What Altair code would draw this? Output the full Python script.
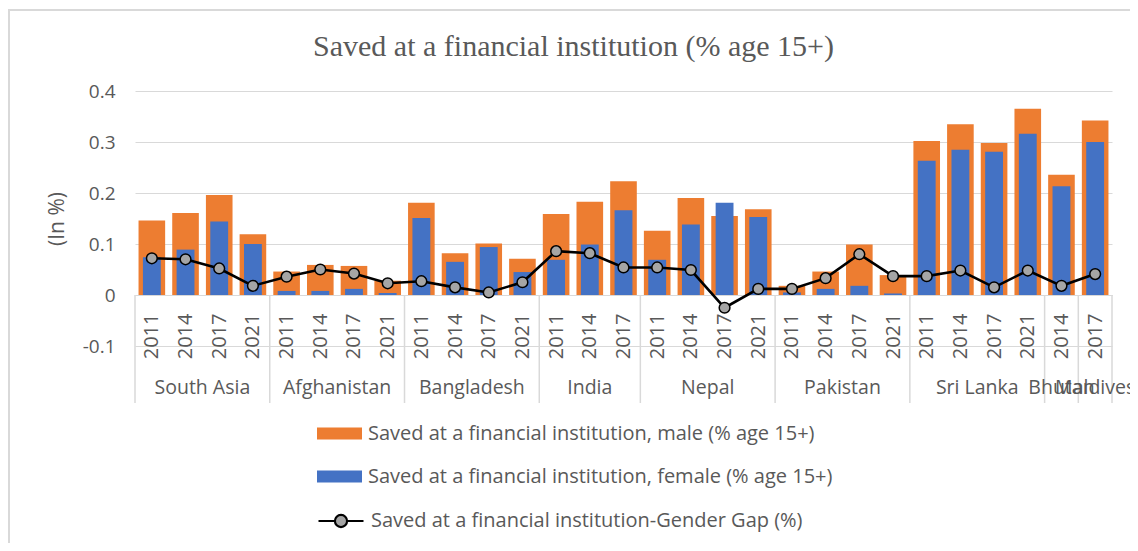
import altair as alt
import pandas as pd

# ---- data ----
countries = (["South Asia"] * 4 + ["Afghanistan"] * 4 + ["Bangladesh"] * 4 + ["India"] * 3
             + ["Nepal"] * 4 + ["Pakistan"] * 4 + ["Sri Lanka"] * 4 + ["Bhutan"] + ["Maldives"])
years = ["2011", "2014", "2017", "2021",
         "2011", "2014", "2017", "2021",
         "2011", "2014", "2017", "2021",
         "2011", "2014", "2017",
         "2011", "2014", "2017", "2021",
         "2011", "2014", "2017", "2021",
         "2011", "2014", "2017", "2021",
         "2014",
         "2017"]
male = [0.146, 0.161, 0.196, 0.119,
        0.046, 0.059, 0.057, 0.028,
        0.181, 0.082, 0.101, 0.071,
        0.159, 0.183, 0.223,
        0.126, 0.190, 0.155, 0.168,
        0.018, 0.046, 0.099, 0.039,
        0.302, 0.335, 0.298, 0.365,
        0.236,
        0.342]
female = [0.074, 0.089, 0.144, 0.100,
          0.008, 0.008, 0.012, 0.004,
          0.151, 0.065, 0.094, 0.045,
          0.069, 0.099, 0.166,
          0.069, 0.138, 0.181, 0.153,
          0.005, 0.012, 0.018, 0.003,
          0.263, 0.285, 0.281, 0.316,
          0.213,
          0.300]
gap = [0.072, 0.070, 0.052, 0.018,
       0.036, 0.050, 0.042, 0.023,
       0.027, 0.015, 0.005, 0.025,
       0.086, 0.082, 0.054,
       0.054, 0.049, -0.025, 0.012,
       0.012, 0.033, 0.080, 0.037,
       0.037, 0.048, 0.015, 0.048,
       0.018,
       0.041]
y_ticks = [-0.1, 0, 0.1, 0.2, 0.3, 0.4]

MALE = "Saved at a financial institution, male (% age 15+)"
FEMALE = "Saved at a financial institution, female (% age 15+)"
GAP = "Saved at a financial institution-Gender Gap (%)"
TITLE = "Saved at a financial institution (% age 15+)"

ORANGE = "#ED7D31"
BLUE = "#4472C4"
GREY = "#A5A5A5"
TXT = "#595959"
GRID = "#D9D9D9"
FONT = "Open Sans"

n = len(years)
df = pd.DataFrame({"idx": list(range(n)), "country": countries, "year": years,
                   "male": male, "female": female, "gap": gap})
df["zero"] = 0.0
df["m0"] = df["idx"] - 0.395
df["m1"] = df["idx"] + 0.395
df["f0"] = df["idx"] - 0.265
df["f1"] = df["idx"] + 0.265

grp = df.groupby("country", sort=False)["idx"].agg(["min", "max"]).reset_index()
grp["center"] = (grp["min"] + grp["max"]) / 2
bounds = pd.DataFrame({"b": list(grp["min"] - 0.5) + [n - 0.5]})
bounds["zero"] = 0.0

W, H = 977, 255
ymin, ymax = y_ticks[0], y_ticks[-1]

xscale = alt.Scale(domain=[-0.5, n - 0.5], nice=False, zero=False)
yscale = alt.Scale(domain=[ymin, ymax], nice=False, zero=False)
fillscale = alt.Scale(domain=[MALE, FEMALE], range=[ORANGE, BLUE])
strokescale = alt.Scale(domain=[GAP], range=["black"])

# year labels looked up by bar index from one concatenated string
year_str = "".join(years)
year_expr = f"substring('{year_str}', datum.value*4, datum.value*4+4)"

base = alt.Chart(df)

rect_sym = "M-1,-0.27 L1,-0.27 L1,0.27 L-1,0.27 Z"
line_sym = ("M-1,0 L-0.27,0 M0.27,0 L1,0 "
            "M0.27,0 A0.27,0.27 0 1,1 -0.27,0 A0.27,0.27 0 1,1 0.27,0 Z")

fill_legend = alt.Legend(
    title=None, orient="none", legendX=182, legendY=320, direction="vertical",
    symbolType=rect_sym, symbolSize=2025, symbolStrokeWidth=0, padding=0,
    labelFont=FONT, labelFontSize=20, labelColor=TXT, labelOffset=6,
    rowPadding=10, labelLimit=0)
stroke_legend = alt.Legend(
    title=None, orient="none", legendX=182, legendY=406, direction="vertical",
    symbolType=line_sym, symbolSize=2025, symbolStrokeWidth=2.2,
    symbolFillColor=GREY, padding=0,
    labelFont=FONT, labelFontSize=20, labelColor=TXT, labelOffset=6, labelLimit=0)

x_axis = alt.Axis(values=list(range(n)), tickCount=n, labelExpr=year_expr, labelAngle=270,
                  title=None, grid=False, ticks=False, domain=True, domainColor=GRID,
                  domainWidth=1, offset=-H * (0 - ymin) / (ymax - ymin),
                  labelPadding=18, labelFont=FONT, labelFontSize=20, labelColor=TXT,
                  labelOverlap=False, labelFlush=False)
y_axis = alt.Axis(values=y_ticks,
                  labelExpr="toString(round(datum.value*10)/10)",
                  title="(In %)", grid=True, gridColor=GRID, gridWidth=1.2,
                  domain=False, ticks=False, labelPadding=20,
                  labelFont=FONT, labelFontSize=19, labelColor=TXT,
                  titleFont=FONT, titleFontSize=21, titleColor=TXT,
                  titleFontWeight="normal", titlePadding=15)

male_bars = base.transform_calculate(series=f"'{MALE}'").mark_rect().encode(
    x=alt.X("m0:Q", scale=xscale, axis=x_axis),
    x2="m1:Q",
    y=alt.Y("male:Q", scale=yscale, axis=y_axis),
    y2="zero:Q",
    fill=alt.Fill("series:N", scale=fillscale, legend=fill_legend),
)
female_bars = base.transform_calculate(series=f"'{FEMALE}'").mark_rect().encode(
    x=alt.X("f0:Q", scale=xscale),
    x2="f1:Q",
    y=alt.Y("female:Q", scale=yscale),
    y2="zero:Q",
    fill=alt.Fill("series:N", scale=fillscale, legend=fill_legend),
)
gap_line = base.transform_calculate(series=f"'{GAP}'").mark_line(strokeWidth=2.6).encode(
    x=alt.X("idx:Q", scale=xscale),
    y=alt.Y("gap:Q", scale=yscale),
    stroke=alt.Stroke("series:N", scale=strokescale, legend=stroke_legend),
)
gap_pts = base.mark_point(filled=True, fill=GREY, stroke="black", strokeWidth=1.5,
                          size=115, opacity=1).encode(
    x=alt.X("idx:Q", scale=xscale),
    y=alt.Y("gap:Q", scale=yscale),
)
separators = alt.Chart(bounds).mark_rule(color=GRID, strokeWidth=1.5).encode(
    x=alt.X("b:Q", scale=xscale),
    y=alt.Y("zero:Q", scale=yscale),
    y2=alt.value(312),
)
group_labels = alt.Chart(grp).mark_text(font=FONT, fontSize=19.5, color=TXT,
                                        baseline="middle", align="center").encode(
    x=alt.X("center:Q", scale=xscale),
    y=alt.value(297),
    text="country:N",
)
border = alt.Chart(pd.DataFrame({"k": [0]})).mark_rect(
    fillOpacity=0, stroke=GRID, strokeWidth=2).encode(
    x=alt.value(-126), x2=alt.value(W + 60), y=alt.value(-81), y2=alt.value(H + 260))

chart = alt.layer(
    male_bars, female_bars, separators, gap_line, gap_pts, group_labels, border
).properties(
    width=W, height=H,
    title=alt.Title(TITLE, font="Liberation Serif", fontSize=30, color=TXT,
                    fontWeight="normal", anchor="middle", frame="group",
                    dx=-50, offset=-53),
    autosize=alt.AutoSizeParams(type="none"),
    padding={"left": 127, "top": 83, "right": 18, "bottom": 197},
).configure_view(stroke=None)

chart.save("out.html", embed_options={"renderer": "svg", "actions": False})
